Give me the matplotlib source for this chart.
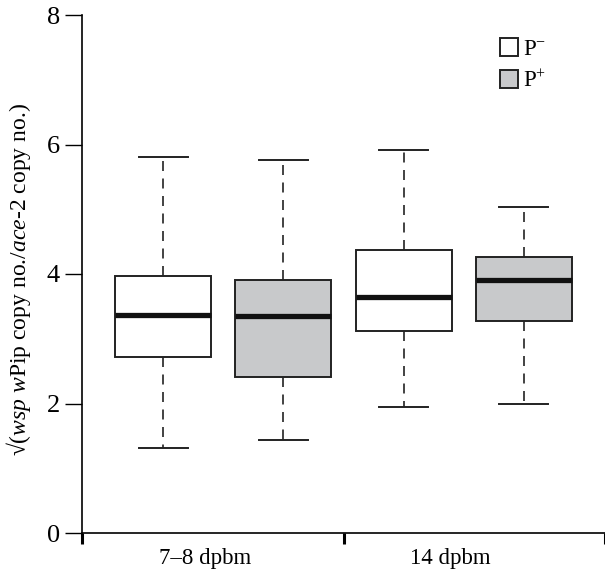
import matplotlib
matplotlib.use("Agg")
import matplotlib.pyplot as plt
from matplotlib.patches import Patch

plt.rcParams['font.family'] = 'Liberation Serif'
plt.rcParams['mathtext.fontset'] = 'custom'
plt.rcParams['mathtext.rm'] = 'Liberation Serif'
plt.rcParams['mathtext.it'] = 'Liberation Serif:italic'

# box order: 7-8 dpbm P-, 7-8 dpbm P+, 14 dpbm P-, 14 dpbm P+
groups = ['7–8 dpbm', '14 dpbm']
phenotypes = ['P$^{-}$', 'P$^{+}$']
whislo = [1.32, 1.43, 1.94, 2.00]
q1 = [2.72, 2.41, 3.12, 3.27]
med = [3.37, 3.35, 3.65, 3.91]
q3 = [3.97, 3.90, 4.37, 4.27]
whishi = [5.80, 5.76, 5.91, 5.03]

fills = ['white', '#c8c9cb']

stats = []
for i in range(4):
    stats.append({'whislo': whislo[i], 'q1': q1[i], 'med': med[i],
                  'q3': q3[i], 'whishi': whishi[i], 'fliers': []})

fig = plt.figure(figsize=(6.05, 5.73), dpi=100)
ax = fig.add_axes([82 / 605, 40 / 573, 523 / 605, 518 / 573])

positions = [0.31, 0.77, 1.23, 1.69]
bp = ax.bxp(stats, positions=positions, widths=0.367, patch_artist=True,
            showfliers=False,
            boxprops=dict(linewidth=1.4, edgecolor='#222222'),
            medianprops=dict(color='#111111', linewidth=3.8),
            whiskerprops=dict(linestyle=(0, (6, 4.5)), linewidth=1.2, color='#222222'),
            capprops=dict(linewidth=1.4, color='#222222'),
            capwidths=0.187)
for i, b in enumerate(bp['boxes']):
    b.set_facecolor(fills[i % 2])

ax.set_xlim(0, 2)
ax.set_ylim(0, 8)
ax.set_yticks([0, 2, 4, 6, 8])
ax.set_xticks([0, 1, 2])
ax.set_xticklabels(['', '', ''])
ax.set_xticks([0.47, 1.41], minor=True)
ax.set_xticklabels(groups, minor=True)
ax.tick_params(axis='x', which='major', direction='out', length=8, width=2.2)
ax.tick_params(axis='x', which='minor', length=0, pad=11, labelsize=16.5)
ax.tick_params(axis='y', direction='out', length=12, width=1.0, labelsize=19, pad=4)

for s in ['top', 'right']:
    ax.spines[s].set_visible(False)
ax.spines['left'].set_linewidth(1.2)
ax.spines['bottom'].set_linewidth(1.2)

ax.set_ylabel('√(' + r'$\mathit{wsp\ w}$' + 'Pip copy no./' + r'$\mathit{ace}$' + '-2 copy no.)',
              fontsize=17)
ax.yaxis.set_label_coords(-0.093, 0.49)

handles = [Patch(facecolor=fills[0], edgecolor='#222222', linewidth=1.4),
           Patch(facecolor=fills[1], edgecolor='#222222', linewidth=1.4)]
ax.legend(handles, phenotypes, loc='upper left', bbox_to_anchor=(500 / 605, 1 - 38 / 573),
          bbox_transform=fig.transFigure, frameon=False, fontsize=16.5,
          handlelength=0.8, handleheight=0.8, handletextpad=0.2, labelspacing=0.45,
          borderaxespad=0, borderpad=0)

fig.savefig('out.png', dpi=100)
